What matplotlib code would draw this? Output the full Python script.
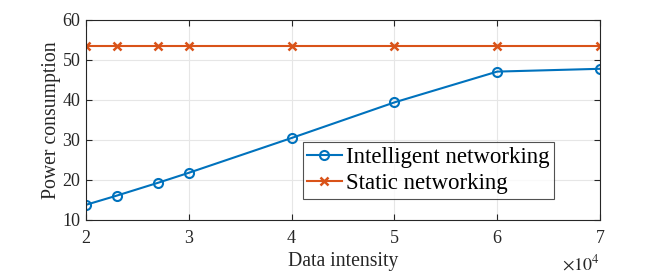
import matplotlib
matplotlib.use("Agg")
import matplotlib.pyplot as plt

data_intensity = [20000, 23000, 27000, 30000, 40000, 50000, 60000, 70000]
intelligent = [13.8, 16.1, 19.3, 21.8, 30.5, 39.4, 47.1, 47.8]
static = [53.6, 53.6, 53.6, 53.6, 53.6, 53.6, 53.6, 53.6]
x_ticks = [20000, 30000, 40000, 50000, 60000, 70000]
y_ticks = [10, 20, 30, 40, 50, 60]
scale_exp = 4

plt.rcParams['font.family'] = ['Liberation Serif', 'DejaVu Serif']
plt.rcParams['mathtext.fontset'] = 'stix'

fig = plt.figure(figsize=(6.64, 2.74), dpi=100)
ax = fig.add_axes([86/664, 1-220/274, (600-86)/664, 200/274])

blue = '#0072BD'
orange = '#D95319'
ax.plot(data_intensity, intelligent, '-o', color=blue, lw=1.5, ms=6.5,
        mfc='none', mew=1.5, label='Intelligent networking')
ax.plot(data_intensity, static, '-x', color=orange, lw=1.5, ms=5.5,
        mew=1.8, label='Static networking')

ax.set_xlim(20000, 70000)
ax.set_ylim(10, 60)
ax.set_xticks(x_ticks)
ax.set_xticklabels([f'{v / 10**scale_exp:g}' for v in x_ticks])
ax.set_yticks(y_ticks)

ax.grid(True, color='#e6e6e6', lw=0.8)
ax.set_axisbelow(True)
for s in ax.spines.values():
    s.set_color('#262626')
    s.set_linewidth(0.8)
ax.tick_params(direction='in', top=True, right=True, labelsize=13,
               colors='#262626', length=4, width=0.8)
ax.tick_params(axis='x', pad=7)
ax.tick_params(axis='y', pad=4)
ax.set_xlabel('Data intensity', fontsize=14.2, color='#262626', labelpad=4)
ax.set_ylabel('Power consumption', fontsize=14.2, color='#262626', labelpad=1)

# exponent multiplier, placed below the right end of the x axis
ax.text(1.0, -0.25, r'$\times10^{%d}$' % scale_exp, transform=ax.transAxes,
        ha='right', va='baseline', fontsize=13, color='#262626')

leg = ax.legend(loc='lower left', bbox_to_anchor=((302.7-86)/514, (220-199)/200),
                fontsize=16.5, frameon=True, fancybox=False, edgecolor='#262626',
                borderpad=0.2, labelspacing=0.25, handlelength=1.5,
                handletextpad=0.2, borderaxespad=0)
leg.get_frame().set_linewidth(0.8)

fig.savefig('out.png', dpi=100)
